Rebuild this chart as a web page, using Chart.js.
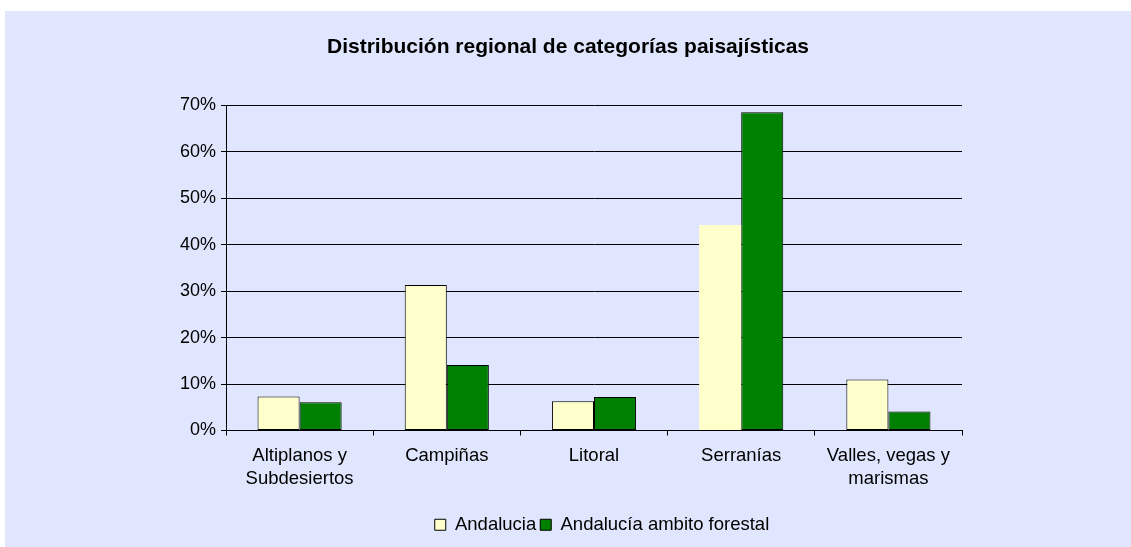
<!DOCTYPE html>
<html>
<head>
<meta charset="utf-8">
<script src="https://cdn.jsdelivr.net/npm/chart.js@4.4.1/dist/chart.umd.min.js"></script>
<style>
  html, body { margin: 0; padding: 0; background: #ffffff; }
  #c { display: block; }
</style>
</head>
<body>
<canvas id="c" width="1131" height="547"></canvas>
<script>
const titleText = 'Distribución regional de categorías paisajísticas';
const categories = [
  ['Altiplanos y', 'Subdesiertos'],
  'Campiñas',
  'Litoral',
  'Serranías',
  ['Valles, vegas y', 'marismas']
];
const seriesNames = ['Andalucia', 'Andalucía ambito forestal'];
const andalucia = [7.3, 31.3, 6.3, 44.2, 11.0];
const forestal = [6.1, 14.1, 7.2, 68.5, 4.1];
const yMin = 0, yMax = 70, yStep = 10;

const FONT = '"Liberation Sans", Arial, sans-serif';
const PANEL = 'rgb(224,230,254)';

const panelBg = {
  id: 'panelBg',
  beforeDraw(chart) {
    const ctx = chart.ctx;
    ctx.save();
    ctx.fillStyle = PANEL;
    ctx.fillRect(5, 11, chart.width - 5, chart.height - 11);
    ctx.restore();
  }
};

const legendShift = {
  id: 'legendShift',
  afterLayout(chart) {
    if (chart.legend) {
      chart.legend.left += 8;
      chart.legend.right += 8;
    }
  }
};

new Chart(document.getElementById('c'), {
  type: 'bar',
  data: {
    labels: categories,
    datasets: [
      {
        label: seriesNames[0],
        data: andalucia,
        backgroundColor: '#FFFFCC',
        borderColor: '#000000',
        borderWidth: (ctx) => (ctx.type === 'data' && ctx.dataIndex === 3) ? 0 : 1,
        borderSkipped: false
      },
      {
        label: seriesNames[1],
        data: forestal,
        backgroundColor: '#008000',
        borderColor: '#000000',
        borderWidth: 1,
        borderSkipped: false
      }
    ]
  },
  options: {
    responsive: false,
    animation: false,
    devicePixelRatio: 1,
    layout: { padding: { left: 5, top: 11, right: 0, bottom: 3 } },
    datasets: { bar: { categoryPercentage: 2 / 3.5, barPercentage: 1.0 } },
    plugins: {
      title: {
        display: true,
        text: titleText,
        color: '#000000',
        font: { family: FONT, size: 21, weight: 'bold' },
        padding: { top: 24, bottom: 45 }
      },
      legend: {
        position: 'bottom',
        fullSize: false,
        labels: {
          color: '#000000',
          font: { family: FONT, size: 18.5 },
          boxWidth: 11,
          boxHeight: 11,
          padding: 4
        }
      },
      tooltip: { enabled: false }
    },
    scales: {
      x: {
        grid: { display: true, drawOnChartArea: false, drawTicks: true, tickLength: 5, color: '#000000', offset: true },
        border: { display: true, color: '#000000', width: 1 },
        ticks: { color: '#000000', font: { family: FONT, size: 18.5, lineHeight: 1.25 }, padding: 9, maxRotation: 0, autoSkip: false },
        afterFit(scale) { scale.height = 81; }
      },
      y: {
        min: yMin,
        max: yMax,
        grid: { color: '#000000', lineWidth: 1, tickLength: 5, drawTicks: true },
        border: { display: true, color: '#000000', width: 1 },
        ticks: {
          stepSize: yStep,
          color: '#000000',
          font: { family: FONT, size: 18 },
          padding: 5,
          callback: (v) => v + '%'
        },
        afterFit(scale) { scale.width = 221; }
      },
      yRight: {
        position: 'right',
        display: true,
        grid: { display: false, drawTicks: false },
        border: { display: false },
        ticks: { display: false },
        afterFit(scale) { scale.width = 169; }
      }
    }
  },
  plugins: [panelBg, legendShift]
});
</script>
</body>
</html>
